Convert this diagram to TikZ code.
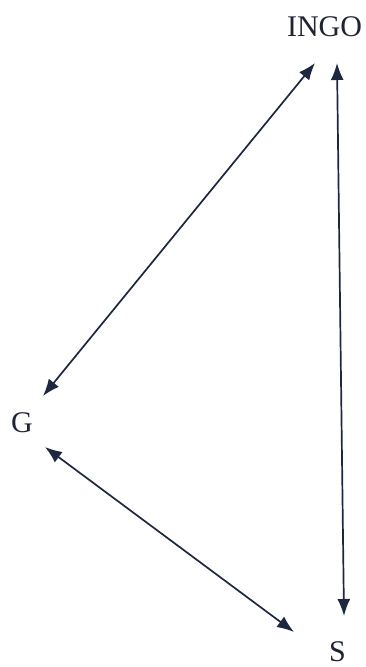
\documentclass[tikz,border=0pt]{standalone}
\usepackage{fontspec}
\setmainfont{Liberation Serif}
\usetikzlibrary{arrows.meta}
\definecolor{inkc}{HTML}{1E2740}
\definecolor{txtc}{HTML}{1F2435}
\begin{document}
\begin{tikzpicture}[x=1pt,y=-1pt,
  lbl/.style={text=txtc,font=\fontsize{30}{32}\selectfont,inner sep=0pt,anchor=base},
  link/.style={draw=inkc,line width=1.7pt,{Latex[length=17pt,width=13pt]}-{Latex[length=17pt,width=13pt]}}]
\useasboundingbox (0,0) rectangle (365,667);
\node[lbl] (ingo) at (324.5,36) {INGO};
\node[lbl] (g) at (22,432) {G};
\node[lbl] (s) at (337.5,661) {S};
\coordinate (ingoG) at (315,63);
\coordinate (ingoS) at (337,63);
\coordinate (gIngo) at (43,396);
\coordinate (gS) at (45,447);
\coordinate (sIngo) at (344,616);
\coordinate (sG) at (294,632);
\draw[link] (ingoG) -- (gIngo);
\draw[link] (ingoS) -- (sIngo);
\draw[link] (gS) -- (sG);
\end{tikzpicture}
\end{document}
